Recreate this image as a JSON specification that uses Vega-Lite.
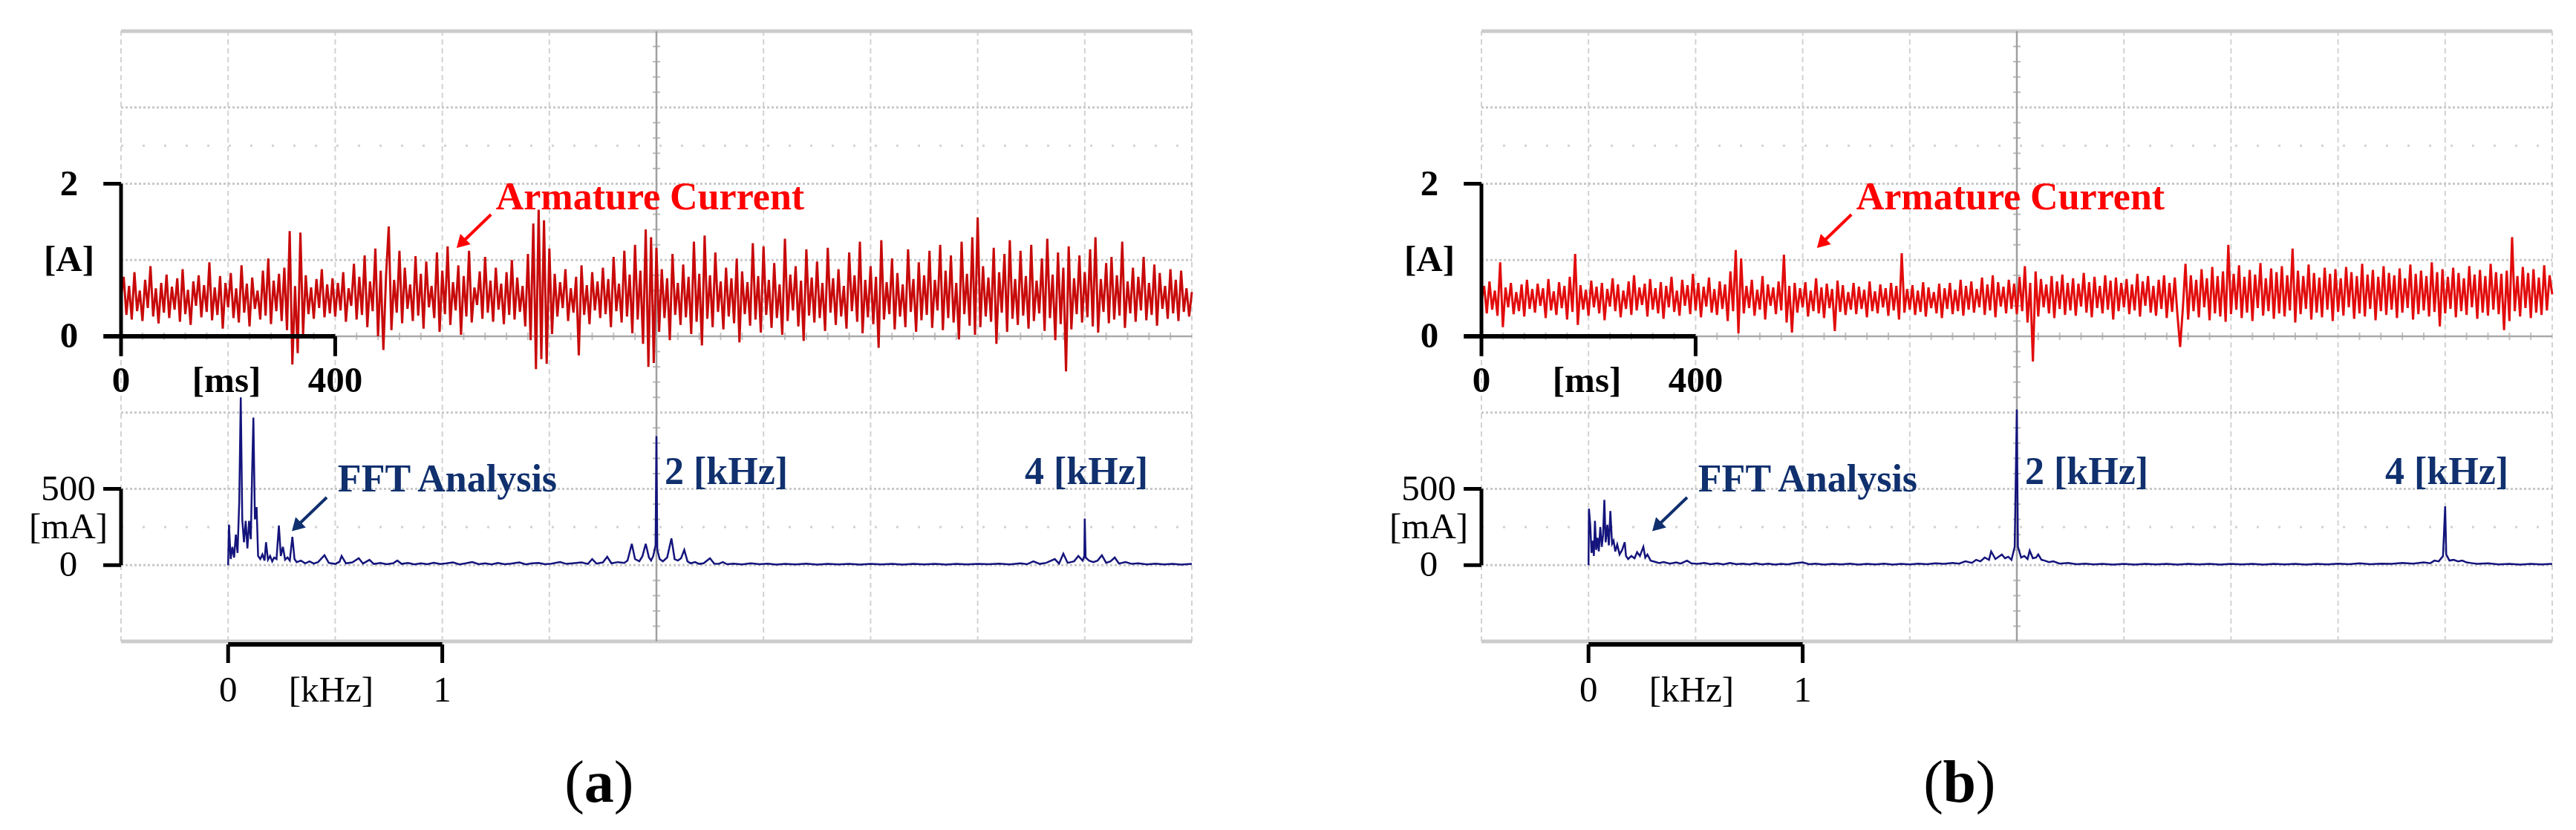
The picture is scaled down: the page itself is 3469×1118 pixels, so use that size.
{
"$schema":"https://vega.github.io/schema/vega-lite/v6.json",
"padding":0,"spacing":0,"bounds":"flush","background":"white",
"config":{"view":{"stroke":null},"axis":{"disable":true},"text":{"font":"Liberation Serif","fontSize":49,"align":"center","baseline":"middle","color":"#000000"}},
"datasets":{
"vgrid":[{"t":0},{"t":200},{"t":400},{"t":600},{"t":800},{"t":1200},{"t":1400},{"t":1600},{"t":1800},{"t":2000}],
"hgrid":[{"i":-3},{"i":-2},{"i":-1},{"i":1},{"i":2},{"i":3}],
"ghost":[{"i":-2.5},{"i":2.5}],
"border":[{"i":-4},{"i":4}],
"vminor":[{"i":-3.8},{"i":-3.6},{"i":-3.4},{"i":-3.2},{"i":-2.8},{"i":-2.6},{"i":-2.4},{"i":-2.2},{"i":-1.8},{"i":-1.6},{"i":-1.4},{"i":-1.2},{"i":-0.8},{"i":-0.6},{"i":-0.4},{"i":-0.2},{"i":0.2},{"i":0.4},{"i":0.6},{"i":0.8},{"i":1.2},{"i":1.4},{"i":1.6},{"i":1.8},{"i":2.2},{"i":2.4},{"i":2.6},{"i":2.8},{"i":3.2},{"i":3.4},{"i":3.6},{"i":3.8}],
"hminor":[{"t":40},{"t":80},{"t":120},{"t":160},{"t":240},{"t":280},{"t":320},{"t":360},{"t":440},{"t":480},{"t":520},{"t":560},{"t":640},{"t":680},{"t":720},{"t":760},{"t":840},{"t":880},{"t":920},{"t":960},{"t":1040},{"t":1080},{"t":1120},{"t":1160},{"t":1240},{"t":1280},{"t":1320},{"t":1360},{"t":1440},{"t":1480},{"t":1520},{"t":1560},{"t":1640},{"t":1680},{"t":1720},{"t":1760},{"t":1840},{"t":1880},{"t":1920},{"t":1960}],
"curA":[{"t":0,"i":0.52},{"t":5,"i":0.78},{"t":10,"i":0.28},{"t":15,"i":0.66},{"t":20,"i":0.22},{"t":25,"i":0.84},{"t":30,"i":0.33},{"t":35,"i":0.6},{"t":40,"i":0.2},{"t":45,"i":0.74},{"t":50,"i":0.37},{"t":55,"i":0.92},{"t":60,"i":0.26},{"t":65,"i":0.63},{"t":70,"i":0.17},{"t":75,"i":0.7},{"t":80,"i":0.31},{"t":85,"i":0.81},{"t":90,"i":0.24},{"t":95,"i":0.65},
{"t":100,"i":0.35},{"t":105,"i":0.76},{"t":110,"i":0.19},{"t":115,"i":0.88},{"t":120,"i":0.29},{"t":125,"i":0.61},{"t":130,"i":0.15},{"t":135,"i":0.72},{"t":140,"i":0.4},{"t":145,"i":0.8},{"t":150,"i":0.25},{"t":155,"i":0.67},{"t":160,"i":0.32},{"t":165,"i":0.97},{"t":170,"i":0.21},{"t":175,"i":0.64},{"t":180,"i":0.28},{"t":185,"i":0.79},{"t":190,"i":0.1},{"t":195,"i":0.7},
{"t":200,"i":0.38},{"t":205,"i":0.83},{"t":210,"i":0.24},{"t":215,"i":0.63},{"t":220,"i":0.18},{"t":225,"i":0.93},{"t":230,"i":0.31},{"t":235,"i":0.69},{"t":240,"i":0.13},{"t":245,"i":0.77},{"t":250,"i":0.36},{"t":255,"i":0.6},{"t":260,"i":0.22},{"t":265,"i":0.86},{"t":270,"i":0.27},{"t":275,"i":1.02},{"t":280,"i":0.16},{"t":285,"i":0.73},{"t":290,"i":0.33},{"t":295,"i":0.82},
{"t":300,"i":0.2},{"t":305,"i":0.9},{"t":310,"i":0.08},{"t":315,"i":1.38},{"t":320,"i":-0.37},{"t":325,"i":0.66},{"t":330,"i":-0.22},{"t":335,"i":1.36},{"t":340,"i":0.03},{"t":345,"i":0.8},{"t":350,"i":0.29},{"t":355,"i":0.64},{"t":360,"i":0.23},{"t":365,"i":0.75},{"t":370,"i":0.37},{"t":375,"i":0.88},{"t":380,"i":0.25},{"t":385,"i":0.68},{"t":390,"i":0.3},{"t":395,"i":0.76},
{"t":400,"i":0.26},{"t":405,"i":0.7},{"t":410,"i":0.34},{"t":415,"i":0.84},{"t":420,"i":0.19},{"t":425,"i":0.63},{"t":430,"i":0.4},{"t":435,"i":0.95},{"t":440,"i":0.22},{"t":445,"i":0.78},{"t":450,"i":0.28},{"t":455,"i":1.06},{"t":460,"i":0.12},{"t":465,"i":0.72},{"t":470,"i":0.33},{"t":475,"i":1.15},{"t":480,"i":0},{"t":485,"i":0.86},{"t":490,"i":-0.18},{"t":495,"i":0.8},
{"t":500,"i":1.44},{"t":505,"i":0.08},{"t":510,"i":0.74},{"t":515,"i":0.31},{"t":520,"i":1.12},{"t":525,"i":0.17},{"t":530,"i":0.9},{"t":535,"i":0.36},{"t":540,"i":0.68},{"t":545,"i":0.2},{"t":550,"i":1.05},{"t":555,"i":0.27},{"t":560,"i":0.82},{"t":565,"i":0.1},{"t":570,"i":0.98},{"t":575,"i":0.38},{"t":580,"i":0.66},{"t":585,"i":0.24},{"t":590,"i":1.1},{"t":595,"i":0.06},
{"t":600,"i":0.86},{"t":605,"i":0.29},{"t":610,"i":1.18},{"t":615,"i":0.15},{"t":620,"i":0.71},{"t":625,"i":0.34},{"t":630,"i":0.93},{"t":635,"i":0.02},{"t":640,"i":0.79},{"t":645,"i":0.26},{"t":650,"i":1.12},{"t":655,"i":0.18},{"t":660,"i":0.64},{"t":665,"i":0.41},{"t":670,"i":0.85},{"t":675,"i":0.23},{"t":680,"i":1.04},{"t":685,"i":0.31},{"t":690,"i":0.73},{"t":695,"i":0.19},
{"t":700,"i":0.9},{"t":705,"i":0.35},{"t":710,"i":0.69},{"t":715,"i":0.16},{"t":720,"i":0.84},{"t":725,"i":0.28},{"t":730,"i":1},{"t":735,"i":0.22},{"t":740,"i":0.77},{"t":745,"i":0.32},{"t":750,"i":0.66},{"t":755,"i":0.13},{"t":760,"i":1.08},{"t":765,"i":-0.05},{"t":770,"i":1.48},{"t":775,"i":-0.43},{"t":780,"i":1.66},{"t":785,"i":-0.3},{"t":790,"i":1.52},{"t":795,"i":-0.36},
{"t":800,"i":1.15},{"t":805,"i":0.03},{"t":810,"i":0.82},{"t":815,"i":0.26},{"t":820,"i":0.71},{"t":825,"i":0.37},{"t":830,"i":0.88},{"t":835,"i":0.2},{"t":840,"i":0.63},{"t":845,"i":0.31},{"t":850,"i":0.78},{"t":855,"i":-0.25},{"t":860,"i":0.93},{"t":865,"i":0.28},{"t":870,"i":0.67},{"t":875,"i":0.16},{"t":880,"i":0.84},{"t":885,"i":0.34},{"t":890,"i":0.72},{"t":895,"i":0.24},
{"t":900,"i":0.9},{"t":905,"i":0.29},{"t":910,"i":0.75},{"t":915,"i":0.12},{"t":920,"i":1.04},{"t":925,"i":0.33},{"t":930,"i":0.69},{"t":935,"i":0.18},{"t":940,"i":1.12},{"t":945,"i":0.26},{"t":950,"i":0.81},{"t":955,"i":0.04},{"t":960,"i":1.2},{"t":965,"i":0.22},{"t":970,"i":0.86},{"t":975,"i":-0.1},{"t":980,"i":1.4},{"t":985,"i":-0.4},{"t":990,"i":1.3},{"t":995,"i":-0.35},
{"t":1000,"i":1.16},{"t":1005,"i":0.06},{"t":1010,"i":0.88},{"t":1015,"i":0.24},{"t":1020,"i":0.76},{"t":1025,"i":-0.05},{"t":1030,"i":1.08},{"t":1035,"i":0.28},{"t":1040,"i":0.7},{"t":1045,"i":0.15},{"t":1050,"i":0.94},{"t":1055,"i":0.25},{"t":1060,"i":0.78},{"t":1065,"i":0.03},{"t":1070,"i":1.24},{"t":1075,"i":0.19},{"t":1080,"i":0.82},{"t":1085,"i":-0.12},{"t":1090,"i":1.32},{"t":1095,"i":0.23},
{"t":1100,"i":0.8},{"t":1105,"i":0.12},{"t":1110,"i":1.1},{"t":1115,"i":0.32},{"t":1120,"i":0.72},{"t":1125,"i":0.09},{"t":1130,"i":0.9},{"t":1135,"i":0.26},{"t":1140,"i":0.76},{"t":1145,"i":0.17},{"t":1150,"i":1.02},{"t":1155,"i":-0.08},{"t":1160,"i":0.85},{"t":1165,"i":0.29},{"t":1170,"i":0.71},{"t":1175,"i":0.14},{"t":1180,"i":1.22},{"t":1185,"i":0.22},{"t":1190,"i":0.79},{"t":1195,"i":0.05},
{"t":1200,"i":1.18},{"t":1205,"i":0.28},{"t":1210,"i":0.74},{"t":1215,"i":0.11},{"t":1220,"i":0.96},{"t":1225,"i":0.24},{"t":1230,"i":0.68},{"t":1235,"i":0.02},{"t":1240,"i":1.28},{"t":1245,"i":0.2},{"t":1250,"i":0.81},{"t":1255,"i":0.34},{"t":1260,"i":0.92},{"t":1265,"i":0.13},{"t":1270,"i":0.73},{"t":1275,"i":-0.06},{"t":1280,"i":1.14},{"t":1285,"i":0.27},{"t":1290,"i":0.77},{"t":1295,"i":0.18},
{"t":1300,"i":0.98},{"t":1305,"i":0.24},{"t":1310,"i":0.7},{"t":1315,"i":0.07},{"t":1320,"i":1.16},{"t":1325,"i":0.31},{"t":1330,"i":0.76},{"t":1335,"i":0.15},{"t":1340,"i":0.88},{"t":1345,"i":0.26},{"t":1350,"i":0.66},{"t":1355,"i":0.1},{"t":1360,"i":1.1},{"t":1365,"i":0.33},{"t":1370,"i":0.8},{"t":1375,"i":0.19},{"t":1380,"i":1.24},{"t":1385,"i":0.04},{"t":1390,"i":0.74},{"t":1395,"i":0.25},
{"t":1400,"i":0.92},{"t":1405,"i":0.16},{"t":1410,"i":0.78},{"t":1415,"i":-0.15},{"t":1420,"i":1.26},{"t":1425,"i":0.22},{"t":1430,"i":0.71},{"t":1435,"i":0.29},{"t":1440,"i":1.02},{"t":1445,"i":0.09},{"t":1450,"i":0.83},{"t":1455,"i":0.26},{"t":1460,"i":0.68},{"t":1465,"i":0.12},{"t":1470,"i":1.14},{"t":1475,"i":0.32},{"t":1480,"i":0.75},{"t":1485,"i":0.06},{"t":1490,"i":0.97},{"t":1495,"i":0.21},
{"t":1500,"i":0.8},{"t":1505,"i":0.28},{"t":1510,"i":1.12},{"t":1515,"i":0.11},{"t":1520,"i":0.74},{"t":1525,"i":0.34},{"t":1530,"i":1.2},{"t":1535,"i":0.08},{"t":1540,"i":0.86},{"t":1545,"i":0.24},{"t":1550,"i":1.06},{"t":1555,"i":0.18},{"t":1560,"i":0.7},{"t":1565,"i":-0.04},{"t":1570,"i":1.24},{"t":1575,"i":0.29},{"t":1580,"i":0.82},{"t":1585,"i":0.14},{"t":1590,"i":1.3},{"t":1595,"i":0.02},
{"t":1600,"i":1.56},{"t":1605,"i":0.12},{"t":1610,"i":0.92},{"t":1615,"i":0.26},{"t":1620,"i":0.77},{"t":1625,"i":0.19},{"t":1630,"i":1.16},{"t":1635,"i":-0.1},{"t":1640,"i":0.84},{"t":1645,"i":0.31},{"t":1650,"i":1.08},{"t":1655,"i":0.06},{"t":1660,"i":1.26},{"t":1665,"i":0.23},{"t":1670,"i":0.75},{"t":1675,"i":0.15},{"t":1680,"i":1.12},{"t":1685,"i":0.27},{"t":1690,"i":0.79},{"t":1695,"i":0.1},
{"t":1700,"i":1.2},{"t":1705,"i":0.2},{"t":1710,"i":0.73},{"t":1715,"i":0.3},{"t":1720,"i":1.02},{"t":1725,"i":0.07},{"t":1730,"i":1.28},{"t":1735,"i":0.24},{"t":1740,"i":0.81},{"t":1745,"i":-0.05},{"t":1750,"i":1.1},{"t":1755,"i":0.16},{"t":1760,"i":0.9},{"t":1765,"i":-0.46},{"t":1770,"i":1.18},{"t":1775,"i":0.09},{"t":1780,"i":0.76},{"t":1785,"i":0.29},{"t":1790,"i":1.06},{"t":1795,"i":0.18},
{"t":1800,"i":0.84},{"t":1805,"i":0.25},{"t":1810,"i":1.14},{"t":1815,"i":0.13},{"t":1820,"i":1.3},{"t":1825,"i":0.05},{"t":1830,"i":0.75},{"t":1835,"i":0.32},{"t":1840,"i":0.96},{"t":1845,"i":0.17},{"t":1850,"i":1.04},{"t":1855,"i":0.22},{"t":1860,"i":0.8},{"t":1865,"i":0.27},{"t":1870,"i":1.24},{"t":1875,"i":0.11},{"t":1880,"i":0.72},{"t":1885,"i":0.3},{"t":1890,"i":0.9},{"t":1895,"i":0.19},
{"t":1900,"i":0.78},{"t":1905,"i":0.34},{"t":1910,"i":1.04},{"t":1915,"i":0.21},{"t":1920,"i":0.7},{"t":1925,"i":0.28},{"t":1930,"i":0.94},{"t":1935,"i":0.14},{"t":1940,"i":0.83},{"t":1945,"i":0.36},{"t":1950,"i":0.66},{"t":1955,"i":0.23},{"t":1960,"i":0.88},{"t":1965,"i":0.3},{"t":1970,"i":0.74},{"t":1975,"i":0.2},{"t":1980,"i":0.86},{"t":1985,"i":0.32},{"t":1990,"i":0.63},{"t":1995,"i":0.26},{"t":2000,"i":0.58}],
"curB":[{"t":0,"i":0.48},{"t":5,"i":0.66},{"t":10,"i":0.3},{"t":15,"i":0.72},{"t":20,"i":0.35},{"t":25,"i":0.6},{"t":30,"i":0.27},{"t":35,"i":0.97},{"t":40,"i":0.12},{"t":45,"i":0.64},{"t":50,"i":0.38},{"t":55,"i":0.7},{"t":60,"i":0.29},{"t":65,"i":0.58},{"t":70,"i":0.33},{"t":75,"i":0.68},{"t":80,"i":0.26},{"t":85,"i":0.74},{"t":90,"i":0.36},{"t":95,"i":0.62},
{"t":100,"i":0.31},{"t":105,"i":0.69},{"t":110,"i":0.4},{"t":115,"i":0.63},{"t":120,"i":0.24},{"t":125,"i":0.75},{"t":130,"i":0.34},{"t":135,"i":0.59},{"t":140,"i":0.28},{"t":145,"i":0.71},{"t":150,"i":0.37},{"t":155,"i":0.66},{"t":160,"i":0.22},{"t":165,"i":0.78},{"t":170,"i":0.32},{"t":175,"i":1.08},{"t":180,"i":0.15},{"t":185,"i":0.67},{"t":190,"i":0.35},{"t":195,"i":0.61},
{"t":200,"i":0.27},{"t":205,"i":0.73},{"t":210,"i":0.38},{"t":215,"i":0.65},{"t":220,"i":0.3},{"t":225,"i":0.7},{"t":230,"i":0.21},{"t":235,"i":0.62},{"t":240,"i":0.39},{"t":245,"i":0.76},{"t":250,"i":0.33},{"t":255,"i":0.68},{"t":260,"i":0.25},{"t":265,"i":0.6},{"t":270,"i":0.36},{"t":275,"i":0.72},{"t":280,"i":0.28},{"t":285,"i":0.8},{"t":290,"i":0.34},{"t":295,"i":0.64},
{"t":300,"i":0.41},{"t":305,"i":0.69},{"t":310,"i":0.26},{"t":315,"i":0.75},{"t":320,"i":0.35},{"t":325,"i":0.63},{"t":330,"i":0.3},{"t":335,"i":0.71},{"t":340,"i":0.23},{"t":345,"i":0.66},{"t":350,"i":0.38},{"t":355,"i":0.78},{"t":360,"i":0.32},{"t":365,"i":0.6},{"t":370,"i":0.27},{"t":375,"i":0.74},{"t":380,"i":0.4},{"t":385,"i":0.67},{"t":390,"i":0.29},{"t":395,"i":0.82},
{"t":400,"i":0.34},{"t":405,"i":0.7},{"t":410,"i":0.25},{"t":415,"i":0.65},{"t":420,"i":0.39},{"t":425,"i":0.77},{"t":430,"i":0.31},{"t":435,"i":0.62},{"t":440,"i":0.28},{"t":445,"i":0.72},{"t":450,"i":0.36},{"t":455,"i":0.68},{"t":460,"i":0.2},{"t":465,"i":0.85},{"t":470,"i":0.33},{"t":475,"i":1.13},{"t":480,"i":0.04},{"t":485,"i":1.02},{"t":490,"i":0.3},{"t":495,"i":0.66},
{"t":500,"i":0.37},{"t":505,"i":0.74},{"t":510,"i":0.27},{"t":515,"i":0.61},{"t":520,"i":0.35},{"t":525,"i":0.79},{"t":530,"i":0.22},{"t":535,"i":0.68},{"t":540,"i":0.4},{"t":545,"i":0.64},{"t":550,"i":0.29},{"t":555,"i":0.72},{"t":560,"i":0.34},{"t":565,"i":1.07},{"t":570,"i":0.18},{"t":575,"i":0.66},{"t":580,"i":0.05},{"t":585,"i":0.7},{"t":590,"i":0.31},{"t":595,"i":0.63},
{"t":600,"i":0.38},{"t":605,"i":0.71},{"t":610,"i":0.26},{"t":615,"i":0.6},{"t":620,"i":0.33},{"t":625,"i":0.76},{"t":630,"i":0.3},{"t":635,"i":0.64},{"t":640,"i":0.24},{"t":645,"i":0.69},{"t":650,"i":0.37},{"t":655,"i":0.62},{"t":660,"i":0.07},{"t":665,"i":0.73},{"t":670,"i":0.32},{"t":675,"i":0.67},{"t":680,"i":0.28},{"t":685,"i":0.58},{"t":690,"i":0.35},{"t":695,"i":0.7},
{"t":700,"i":0.29},{"t":705,"i":0.65},{"t":710,"i":0.36},{"t":715,"i":0.61},{"t":720,"i":0.25},{"t":725,"i":0.72},{"t":730,"i":0.33},{"t":735,"i":0.59},{"t":740,"i":0.3},{"t":745,"i":0.68},{"t":750,"i":0.38},{"t":755,"i":0.63},{"t":760,"i":0.27},{"t":765,"i":0.7},{"t":770,"i":0.34},{"t":775,"i":0.66},{"t":780,"i":0.22},{"t":785,"i":1.09},{"t":790,"i":0.31},{"t":795,"i":0.62},
{"t":800,"i":0.35},{"t":805,"i":0.67},{"t":810,"i":0.28},{"t":815,"i":0.6},{"t":820,"i":0.32},{"t":825,"i":0.71},{"t":830,"i":0.26},{"t":835,"i":0.64},{"t":840,"i":0.37},{"t":845,"i":0.58},{"t":850,"i":0.3},{"t":855,"i":0.69},{"t":860,"i":0.24},{"t":865,"i":0.63},{"t":870,"i":0.36},{"t":875,"i":0.7},{"t":880,"i":0.29},{"t":885,"i":0.61},{"t":890,"i":0.33},{"t":895,"i":0.74},
{"t":900,"i":0.27},{"t":905,"i":0.66},{"t":910,"i":0.35},{"t":915,"i":0.72},{"t":920,"i":0.31},{"t":925,"i":0.62},{"t":930,"i":0.38},{"t":935,"i":0.77},{"t":940,"i":0.28},{"t":945,"i":0.68},{"t":950,"i":0.34},{"t":955,"i":0.8},{"t":960,"i":0.25},{"t":965,"i":0.71},{"t":970,"i":0.39},{"t":975,"i":0.65},{"t":980,"i":0.3},{"t":985,"i":0.74},{"t":990,"i":0.36},{"t":995,"i":0.69},
{"t":1000,"i":0.29},{"t":1005,"i":0.78},{"t":1010,"i":0.33},{"t":1015,"i":0.92},{"t":1020,"i":0.18},{"t":1025,"i":0.7},{"t":1030,"i":-0.33},{"t":1035,"i":0.85},{"t":1040,"i":0.26},{"t":1045,"i":0.75},{"t":1050,"i":0.38},{"t":1055,"i":0.68},{"t":1060,"i":0.3},{"t":1065,"i":0.79},{"t":1070,"i":0.24},{"t":1075,"i":0.72},{"t":1080,"i":0.36},{"t":1085,"i":0.81},{"t":1090,"i":0.28},{"t":1095,"i":0.7},
{"t":1100,"i":0.34},{"t":1105,"i":0.76},{"t":1110,"i":0.27},{"t":1115,"i":0.69},{"t":1120,"i":0.39},{"t":1125,"i":0.83},{"t":1130,"i":0.31},{"t":1135,"i":0.71},{"t":1140,"i":0.25},{"t":1145,"i":0.78},{"t":1150,"i":0.37},{"t":1155,"i":0.66},{"t":1160,"i":0.3},{"t":1165,"i":0.8},{"t":1170,"i":0.35},{"t":1175,"i":0.73},{"t":1180,"i":0.22},{"t":1185,"i":0.77},{"t":1190,"i":0.33},{"t":1195,"i":0.7},
{"t":1200,"i":0.38},{"t":1205,"i":0.75},{"t":1210,"i":0.29},{"t":1215,"i":0.68},{"t":1220,"i":0.34},{"t":1225,"i":0.82},{"t":1230,"i":0.26},{"t":1235,"i":0.72},{"t":1240,"i":0.4},{"t":1245,"i":0.79},{"t":1250,"i":0.31},{"t":1255,"i":0.66},{"t":1260,"i":0.27},{"t":1265,"i":0.74},{"t":1270,"i":0.36},{"t":1275,"i":0.8},{"t":1280,"i":0.24},{"t":1285,"i":0.7},{"t":1290,"i":0.32},{"t":1295,"i":0.77},
{"t":1300,"i":0.28},{"t":1305,"i":-0.14},{"t":1310,"i":0.36},{"t":1315,"i":0.95},{"t":1320,"i":0.22},{"t":1325,"i":0.8},{"t":1330,"i":0.33},{"t":1335,"i":0.74},{"t":1340,"i":0.25},{"t":1345,"i":0.88},{"t":1350,"i":0.38},{"t":1355,"i":0.76},{"t":1360,"i":0.21},{"t":1365,"i":0.91},{"t":1370,"i":0.3},{"t":1375,"i":0.79},{"t":1380,"i":0.26},{"t":1385,"i":0.85},{"t":1390,"i":0.19},{"t":1395,"i":1.2},
{"t":1400,"i":0.29},{"t":1405,"i":0.82},{"t":1410,"i":0.35},{"t":1415,"i":0.93},{"t":1420,"i":0.24},{"t":1425,"i":0.78},{"t":1430,"i":0.31},{"t":1435,"i":0.87},{"t":1440,"i":0.2},{"t":1445,"i":0.81},{"t":1450,"i":0.37},{"t":1455,"i":0.96},{"t":1460,"i":0.27},{"t":1465,"i":0.76},{"t":1470,"i":0.33},{"t":1475,"i":0.89},{"t":1480,"i":0.23},{"t":1485,"i":0.84},{"t":1490,"i":0.3},{"t":1495,"i":0.92},
{"t":1500,"i":0.26},{"t":1505,"i":0.8},{"t":1510,"i":0.34},{"t":1515,"i":1.15},{"t":1520,"i":0.18},{"t":1525,"i":0.86},{"t":1530,"i":0.29},{"t":1535,"i":0.79},{"t":1540,"i":0.36},{"t":1545,"i":0.94},{"t":1550,"i":0.22},{"t":1555,"i":0.83},{"t":1560,"i":0.31},{"t":1565,"i":0.77},{"t":1570,"i":0.25},{"t":1575,"i":0.9},{"t":1580,"i":0.35},{"t":1585,"i":0.82},{"t":1590,"i":0.2},{"t":1595,"i":0.88},
{"t":1600,"i":0.32},{"t":1605,"i":0.76},{"t":1610,"i":0.27},{"t":1615,"i":0.91},{"t":1620,"i":0.38},{"t":1625,"i":0.84},{"t":1630,"i":0.23},{"t":1635,"i":0.79},{"t":1640,"i":0.3},{"t":1645,"i":0.95},{"t":1650,"i":0.26},{"t":1655,"i":0.81},{"t":1660,"i":0.36},{"t":1665,"i":0.87},{"t":1670,"i":0.21},{"t":1675,"i":0.78},{"t":1680,"i":0.33},{"t":1685,"i":0.92},{"t":1690,"i":0.28},{"t":1695,"i":0.83},
{"t":1700,"i":0.35},{"t":1705,"i":0.8},{"t":1710,"i":0.24},{"t":1715,"i":0.89},{"t":1720,"i":0.31},{"t":1725,"i":0.76},{"t":1730,"i":0.37},{"t":1735,"i":0.94},{"t":1740,"i":0.22},{"t":1745,"i":0.82},{"t":1750,"i":0.29},{"t":1755,"i":0.86},{"t":1760,"i":0.34},{"t":1765,"i":0.79},{"t":1770,"i":0.26},{"t":1775,"i":0.97},{"t":1780,"i":0.32},{"t":1785,"i":0.84},{"t":1790,"i":0.13},{"t":1795,"i":0.88},
{"t":1800,"i":0.3},{"t":1805,"i":0.78},{"t":1810,"i":0.36},{"t":1815,"i":0.9},{"t":1820,"i":0.25},{"t":1825,"i":0.83},{"t":1830,"i":0.33},{"t":1835,"i":0.76},{"t":1840,"i":0.28},{"t":1845,"i":0.92},{"t":1850,"i":0.38},{"t":1855,"i":0.81},{"t":1860,"i":0.23},{"t":1865,"i":0.87},{"t":1870,"i":0.31},{"t":1875,"i":0.79},{"t":1880,"i":0.27},{"t":1885,"i":0.95},{"t":1890,"i":0.35},{"t":1895,"i":0.84},
{"t":1900,"i":0.29},{"t":1905,"i":0.82},{"t":1910,"i":0.08},{"t":1915,"i":0.86},{"t":1920,"i":0.2},{"t":1925,"i":1.3},{"t":1930,"i":0.33},{"t":1935,"i":0.79},{"t":1940,"i":0.26},{"t":1945,"i":0.91},{"t":1950,"i":0.37},{"t":1955,"i":0.83},{"t":1960,"i":0.24},{"t":1965,"i":0.88},{"t":1970,"i":0.31},{"t":1975,"i":0.77},{"t":1980,"i":0.28},{"t":1985,"i":0.93},{"t":1990,"i":0.34},{"t":1995,"i":0.8},{"t":2000,"i":0.55}],
"fftA":[{"f":0,"a":0},{"f":0.004,"a":265},{"f":0.012,"a":40},{"f":0.02,"a":120},{"f":0.028,"a":50},{"f":0.036,"a":200},{"f":0.044,"a":80},{"f":0.052,"a":420},{"f":0.059,"a":1100},{"f":0.066,"a":300},{"f":0.074,"a":150},{"f":0.082,"a":290},{"f":0.09,"a":110},{"f":0.098,"a":290},{"f":0.106,"a":170},{"f":0.112,"a":600},{"f":0.118,"a":967},{"f":0.125,"a":300},{"f":0.133,"a":380},{"f":0.14,"a":60},{"f":0.15,"a":40},{"f":0.16,"a":70},{"f":0.17,"a":30},{"f":0.177,"a":150},{"f":0.186,"a":35},{"f":0.196,"a":60},{"f":0.206,"a":25},{"f":0.215,"a":50},{"f":0.226,"a":40},{"f":0.237,"a":260},{"f":0.246,"a":60},{"f":0.256,"a":120},{"f":0.266,"a":35},{"f":0.277,"a":50},{"f":0.288,"a":30},{"f":0.3,"a":185},{"f":0.31,"a":40},{"f":0.32,"a":20},{"f":0.34,"a":30},{"f":0.36,"a":12},{"f":0.38,"a":25},{"f":0.4,"a":10},{"f":0.42,"a":20},{"f":0.45,"a":65},{"f":0.47,"a":15},{"f":0.5,"a":8},{"f":0.52,"a":22},{"f":0.53,"a":60},{"f":0.55,"a":12},{"f":0.58,"a":18},{"f":0.61,"a":45},{"f":0.63,"a":10},{"f":0.66,"a":35},{"f":0.68,"a":8},{"f":0.71,"a":14},{"f":0.74,"a":6},{"f":0.77,"a":12},{"f":0.79,"a":30},{"f":0.81,"a":8},{"f":0.84,"a":14},{"f":0.87,"a":5},{"f":0.9,"a":12},{"f":0.93,"a":6},{"f":0.96,"a":16},{"f":0.99,"a":7},{"f":1.02,"a":12},{"f":1.05,"a":18},{"f":1.08,"a":5},{"f":1.11,"a":12},{"f":1.14,"a":20},{"f":1.17,"a":6},{"f":1.2,"a":12},{"f":1.23,"a":5},{"f":1.26,"a":15},{"f":1.29,"a":6},{"f":1.32,"a":10},{"f":1.36,"a":18},{"f":1.39,"a":5},{"f":1.42,"a":12},{"f":1.45,"a":14},{"f":1.48,"a":6},{"f":1.51,"a":10},{"f":1.55,"a":20},{"f":1.58,"a":8},{"f":1.61,"a":12},{"f":1.65,"a":18},{"f":1.68,"a":8},{"f":1.7,"a":40},{"f":1.72,"a":10},{"f":1.75,"a":18},{"f":1.77,"a":55},{"f":1.79,"a":12},{"f":1.82,"a":20},{"f":1.85,"a":15},{"f":1.865,"a":30},{"f":1.885,"a":140},{"f":1.9,"a":40},{"f":1.92,"a":25},{"f":1.935,"a":60},{"f":1.95,"a":140},{"f":1.965,"a":50},{"f":1.975,"a":30},{"f":1.985,"a":60},{"f":1.996,"a":130},{"f":2,"a":845},{"f":2.004,"a":100},{"f":2.015,"a":40},{"f":2.03,"a":25},{"f":2.05,"a":50},{"f":2.07,"a":175},{"f":2.085,"a":40},{"f":2.1,"a":30},{"f":2.115,"a":45},{"f":2.13,"a":100},{"f":2.145,"a":25},{"f":2.16,"a":12},{"f":2.18,"a":20},{"f":2.2,"a":8},{"f":2.22,"a":12},{"f":2.25,"a":45},{"f":2.27,"a":10},{"f":2.29,"a":8},{"f":2.31,"a":20},{"f":2.33,"a":6},{"f":2.36,"a":10},{"f":2.4,"a":5},{"f":2.44,"a":12},{"f":2.48,"a":6},{"f":2.52,"a":10},{"f":2.56,"a":4},{"f":2.6,"a":9},{"f":2.65,"a":5},{"f":2.7,"a":10},{"f":2.75,"a":4},{"f":2.8,"a":8},{"f":2.85,"a":5},{"f":2.9,"a":9},{"f":2.95,"a":4},{"f":3,"a":8},{"f":3.05,"a":5},{"f":3.1,"a":9},{"f":3.15,"a":4},{"f":3.2,"a":8},{"f":3.25,"a":5},{"f":3.3,"a":9},{"f":3.35,"a":4},{"f":3.4,"a":8},{"f":3.45,"a":5},{"f":3.5,"a":9},{"f":3.55,"a":6},{"f":3.6,"a":10},{"f":3.65,"a":5},{"f":3.7,"a":12},{"f":3.73,"a":6},{"f":3.76,"a":25},{"f":3.79,"a":8},{"f":3.82,"a":15},{"f":3.86,"a":40},{"f":3.88,"a":10},{"f":3.9,"a":75},{"f":3.92,"a":15},{"f":3.95,"a":25},{"f":3.97,"a":60},{"f":3.99,"a":30},{"f":3.998,"a":60},{"f":4,"a":305},{"f":4.004,"a":50},{"f":4.02,"a":30},{"f":4.04,"a":20},{"f":4.06,"a":30},{"f":4.08,"a":65},{"f":4.1,"a":15},{"f":4.12,"a":25},{"f":4.14,"a":50},{"f":4.16,"a":10},{"f":4.19,"a":20},{"f":4.22,"a":8},{"f":4.25,"a":12},{"f":4.29,"a":5},{"f":4.33,"a":10},{"f":4.37,"a":5},{"f":4.41,"a":9},{"f":4.45,"a":4},{"f":4.5,"a":8}],
"fftB":[{"f":0,"a":0},{"f":0.002,"a":370},{"f":0.008,"a":265},{"f":0.014,"a":80},{"f":0.02,"a":160},{"f":0.025,"a":60},{"f":0.03,"a":290},{"f":0.036,"a":100},{"f":0.042,"a":180},{"f":0.048,"a":90},{"f":0.055,"a":250},{"f":0.062,"a":120},{"f":0.068,"a":200},{"f":0.074,"a":428},{"f":0.08,"a":150},{"f":0.088,"a":265},{"f":0.095,"a":130},{"f":0.102,"a":355},{"f":0.11,"a":140},{"f":0.117,"a":160},{"f":0.125,"a":90},{"f":0.134,"a":135},{"f":0.145,"a":70},{"f":0.157,"a":100},{"f":0.169,"a":150},{"f":0.175,"a":60},{"f":0.185,"a":40},{"f":0.2,"a":60},{"f":0.215,"a":45},{"f":0.227,"a":85},{"f":0.24,"a":60},{"f":0.256,"a":120},{"f":0.265,"a":50},{"f":0.275,"a":70},{"f":0.29,"a":30},{"f":0.31,"a":22},{"f":0.33,"a":14},{"f":0.35,"a":20},{"f":0.38,"a":10},{"f":0.41,"a":18},{"f":0.43,"a":10},{"f":0.46,"a":30},{"f":0.48,"a":12},{"f":0.51,"a":8},{"f":0.54,"a":14},{"f":0.57,"a":6},{"f":0.6,"a":12},{"f":0.63,"a":5},{"f":0.66,"a":15},{"f":0.69,"a":6},{"f":0.72,"a":10},{"f":0.75,"a":5},{"f":0.78,"a":12},{"f":0.81,"a":5},{"f":0.84,"a":10},{"f":0.87,"a":4},{"f":0.9,"a":9},{"f":0.93,"a":5},{"f":0.96,"a":12},{"f":1,"a":18},{"f":1.03,"a":6},{"f":1.06,"a":10},{"f":1.1,"a":4},{"f":1.14,"a":9},{"f":1.18,"a":5},{"f":1.22,"a":10},{"f":1.26,"a":4},{"f":1.3,"a":9},{"f":1.34,"a":5},{"f":1.38,"a":10},{"f":1.42,"a":4},{"f":1.46,"a":9},{"f":1.5,"a":5},{"f":1.54,"a":10},{"f":1.58,"a":6},{"f":1.62,"a":12},{"f":1.66,"a":8},{"f":1.7,"a":14},{"f":1.73,"a":10},{"f":1.76,"a":25},{"f":1.79,"a":15},{"f":1.81,"a":35},{"f":1.83,"a":25},{"f":1.85,"a":50},{"f":1.87,"a":35},{"f":1.88,"a":90},{"f":1.9,"a":40},{"f":1.92,"a":60},{"f":1.93,"a":70},{"f":1.945,"a":45},{"f":1.96,"a":55},{"f":1.975,"a":35},{"f":1.99,"a":120},{"f":2,"a":1020},{"f":2.005,"a":120},{"f":2.02,"a":50},{"f":2.035,"a":60},{"f":2.05,"a":40},{"f":2.06,"a":95},{"f":2.075,"a":45},{"f":2.09,"a":50},{"f":2.1,"a":70},{"f":2.115,"a":35},{"f":2.13,"a":30},{"f":2.15,"a":20},{"f":2.17,"a":25},{"f":2.2,"a":10},{"f":2.24,"a":14},{"f":2.28,"a":6},{"f":2.32,"a":10},{"f":2.36,"a":5},{"f":2.4,"a":9},{"f":2.45,"a":4},{"f":2.5,"a":8},{"f":2.55,"a":4},{"f":2.6,"a":9},{"f":2.65,"a":5},{"f":2.7,"a":8},{"f":2.75,"a":4},{"f":2.8,"a":9},{"f":2.85,"a":5},{"f":2.9,"a":8},{"f":2.95,"a":4},{"f":3,"a":9},{"f":3.05,"a":5},{"f":3.1,"a":8},{"f":3.15,"a":4},{"f":3.2,"a":9},{"f":3.25,"a":5},{"f":3.3,"a":8},{"f":3.35,"a":4},{"f":3.4,"a":9},{"f":3.45,"a":5},{"f":3.5,"a":10},{"f":3.55,"a":6},{"f":3.6,"a":12},{"f":3.65,"a":6},{"f":3.7,"a":10},{"f":3.75,"a":8},{"f":3.8,"a":14},{"f":3.85,"a":10},{"f":3.9,"a":18},{"f":3.93,"a":12},{"f":3.95,"a":30},{"f":3.97,"a":25},{"f":3.99,"a":60},{"f":4,"a":385},{"f":4.005,"a":70},{"f":4.02,"a":30},{"f":4.04,"a":35},{"f":4.06,"a":25},{"f":4.08,"a":30},{"f":4.1,"a":18},{"f":4.12,"a":14},{"f":4.15,"a":8},{"f":4.2,"a":12},{"f":4.25,"a":5},{"f":4.3,"a":9},{"f":4.35,"a":4},{"f":4.4,"a":8},{"f":4.45,"a":5},{"f":4.5,"a":8}]
},
"hconcat":[
{"width":1832,"height":1118,"resolve":{"scale":{"x":"independent","y":"independent"}},
"layer":[
{"data":{"values":[{}]},"layer":[
{"data":{"name":"vgrid"},"mark":{"type":"rule","color":"#d2d2d2","strokeWidth":2,"strokeDash":[7,5]},"encoding":{"x":{"field":"t","type":"quantitative","scale":{"domain":[-226.08,2314.84],"nice":false,"zero":false}},"y":{"datum":-4,"type":"quantitative","scale":{"domain":[-6.47202,4.40876],"nice":false,"zero":false}},"y2":{"datum":4}}},
{"data":{"name":"hgrid"},"mark":{"type":"rule","color":"#c8c8c8","strokeWidth":3,"strokeDash":[3,3]},"encoding":{"x":{"datum":0,"type":"quantitative","scale":{"domain":[-226.08,2314.84],"nice":false,"zero":false}},"x2":{"datum":2000},"y":{"field":"i","type":"quantitative","scale":{"domain":[-6.47202,4.40876],"nice":false,"zero":false}}}},
{"data":{"name":"ghost"},"mark":{"type":"rule","color":"#d2d2d2","strokeWidth":3,"strokeDash":[3,26]},"encoding":{"x":{"datum":0,"type":"quantitative","scale":{"domain":[-226.08,2314.84],"nice":false,"zero":false}},"x2":{"datum":2000},"y":{"field":"i","type":"quantitative","scale":{"domain":[-6.47202,4.40876],"nice":false,"zero":false}}}},
{"data":{"name":"border"},"mark":{"type":"rule","color":"#cccccc","strokeWidth":5},"encoding":{"x":{"datum":0,"type":"quantitative","scale":{"domain":[-226.08,2314.84],"nice":false,"zero":false}},"x2":{"datum":2000},"y":{"field":"i","type":"quantitative","scale":{"domain":[-6.47202,4.40876],"nice":false,"zero":false}}}},
{"mark":{"type":"rule","color":"#a0a0a0","strokeWidth":2.5},"encoding":{"x":{"datum":1000,"type":"quantitative","scale":{"domain":[-226.08,2314.84],"nice":false,"zero":false}},"y":{"datum":-4,"type":"quantitative","scale":{"domain":[-6.47202,4.40876],"nice":false,"zero":false}},"y2":{"datum":4}}},
{"mark":{"type":"rule","color":"#a8a8a8","strokeWidth":2.5},"encoding":{"x":{"datum":0,"type":"quantitative","scale":{"domain":[-226.08,2314.84],"nice":false,"zero":false}},"x2":{"datum":2000},"y":{"datum":0,"type":"quantitative","scale":{"domain":[-6.47202,4.40876],"nice":false,"zero":false}}}},
{"data":{"name":"vminor"},"mark":{"type":"tick","orient":"horizontal","size":10,"thickness":2,"color":"#a0a0a0"},"encoding":{"x":{"datum":1000,"type":"quantitative","scale":{"domain":[-226.08,2314.84],"nice":false,"zero":false}},"y":{"field":"i","type":"quantitative","scale":{"domain":[-6.47202,4.40876],"nice":false,"zero":false}}}},
{"data":{"name":"hminor"},"mark":{"type":"tick","orient":"vertical","size":10,"thickness":2,"color":"#a8a8a8"},"encoding":{"x":{"field":"t","type":"quantitative","scale":{"domain":[-226.08,2314.84],"nice":false,"zero":false}},"y":{"datum":0,"type":"quantitative","scale":{"domain":[-6.47202,4.40876],"nice":false,"zero":false}}}},
{"data":{"name":"curA"},"mark":{"type":"line","color":"#c80a0a","strokeWidth":3},"encoding":{"x":{"field":"t","type":"quantitative","scale":{"domain":[-226.08,2314.84],"nice":false,"zero":false}},"y":{"field":"i","type":"quantitative","scale":{"domain":[-6.47202,4.40876],"nice":false,"zero":false}}}},
{"mark":{"type":"rule","color":"#000000","strokeWidth":5},"encoding":{"x":{"datum":0,"type":"quantitative","scale":{"domain":[-226.08,2314.84],"nice":false,"zero":false}},"y":{"datum":-0.26,"type":"quantitative","scale":{"domain":[-6.47202,4.40876],"nice":false,"zero":false}},"y2":{"datum":2}}},
{"mark":{"type":"rule","color":"#000000","strokeWidth":5},"encoding":{"x":{"datum":400,"type":"quantitative","scale":{"domain":[-226.08,2314.84],"nice":false,"zero":false}},"y":{"datum":-0.26,"type":"quantitative","scale":{"domain":[-6.47202,4.40876],"nice":false,"zero":false}},"y2":{"datum":0}}},
{"mark":{"type":"rule","color":"#000000","strokeWidth":6},"encoding":{"x":{"datum":-33,"type":"quantitative","scale":{"domain":[-226.08,2314.84],"nice":false,"zero":false}},"x2":{"datum":400},"y":{"datum":0,"type":"quantitative","scale":{"domain":[-6.47202,4.40876],"nice":false,"zero":false}}}},
{"mark":{"type":"rule","color":"#000000","strokeWidth":5},"encoding":{"x":{"datum":-33,"type":"quantitative","scale":{"domain":[-226.08,2314.84],"nice":false,"zero":false}},"x2":{"datum":0},"y":{"datum":2,"type":"quantitative","scale":{"domain":[-6.47202,4.40876],"nice":false,"zero":false}}}},
{"mark":{"type":"text","fontWeight":"bold","text":"2"},"encoding":{"x":{"datum":-97,"type":"quantitative","scale":{"domain":[-226.08,2314.84],"nice":false,"zero":false}},"y":{"datum":2,"type":"quantitative","scale":{"domain":[-6.47202,4.40876],"nice":false,"zero":false}}}},
{"mark":{"type":"text","fontWeight":"bold","text":"[A]"},"encoding":{"x":{"datum":-97,"type":"quantitative","scale":{"domain":[-226.08,2314.84],"nice":false,"zero":false}},"y":{"datum":1,"type":"quantitative","scale":{"domain":[-6.47202,4.40876],"nice":false,"zero":false}}}},
{"mark":{"type":"text","fontWeight":"bold","text":"0"},"encoding":{"x":{"datum":-97,"type":"quantitative","scale":{"domain":[-226.08,2314.84],"nice":false,"zero":false}},"y":{"datum":0,"type":"quantitative","scale":{"domain":[-6.47202,4.40876],"nice":false,"zero":false}}}},
{"mark":{"type":"text","fontWeight":"bold","text":"0"},"encoding":{"x":{"datum":0,"type":"quantitative","scale":{"domain":[-226.08,2314.84],"nice":false,"zero":false}},"y":{"datum":-0.584,"type":"quantitative","scale":{"domain":[-6.47202,4.40876],"nice":false,"zero":false}}}},
{"mark":{"type":"text","fontWeight":"bold","text":"[ms]"},"encoding":{"x":{"datum":197,"type":"quantitative","scale":{"domain":[-226.08,2314.84],"nice":false,"zero":false}},"y":{"datum":-0.584,"type":"quantitative","scale":{"domain":[-6.47202,4.40876],"nice":false,"zero":false}}}},
{"mark":{"type":"text","fontWeight":"bold","text":"400"},"encoding":{"x":{"datum":400,"type":"quantitative","scale":{"domain":[-226.08,2314.84],"nice":false,"zero":false}},"y":{"datum":-0.584,"type":"quantitative","scale":{"domain":[-6.47202,4.40876],"nice":false,"zero":false}}}},
{"mark":{"type":"text","fontWeight":"bold","fontSize":52,"color":"#ff0000","align":"left","baseline":"alphabetic","text":"Armature Current"},"encoding":{"x":{"datum":700,"type":"quantitative","scale":{"domain":[-226.08,2314.84],"nice":false,"zero":false}},"y":{"datum":1.66,"type":"quantitative","scale":{"domain":[-6.47202,4.40876],"nice":false,"zero":false}}}},
{"mark":{"type":"rule","color":"#ff0000","strokeWidth":4},"encoding":{"x":{"datum":691,"type":"quantitative","scale":{"domain":[-226.08,2314.84],"nice":false,"zero":false}},"x2":{"datum":635},"y":{"datum":1.596,"type":"quantitative","scale":{"domain":[-6.47202,4.40876],"nice":false,"zero":false}},"y2":{"datum":1.217}}},
{"mark":{"type":"point","shape":"triangle-up","angle":225,"size":380,"filled":true,"opacity":1,"color":"#ff0000"},"encoding":{"x":{"datum":635,"type":"quantitative","scale":{"domain":[-226.08,2314.84],"nice":false,"zero":false}},"y":{"datum":1.217,"type":"quantitative","scale":{"domain":[-6.47202,4.40876],"nice":false,"zero":false}}}},
{"mark":{"type":"text","fontWeight":"bold","fontSize":80,"baseline":"alphabetic","text":"a"},"encoding":{"x":{"datum":893,"type":"quantitative","scale":{"domain":[-226.08,2314.84],"nice":false,"zero":false}},"y":{"datum":-6.1,"type":"quantitative","scale":{"domain":[-6.47202,4.40876],"nice":false,"zero":false}}}},
{"mark":{"type":"text","fontSize":80,"baseline":"alphabetic","align":"right","dx":-20,"text":"("},"encoding":{"x":{"datum":893,"type":"quantitative","scale":{"domain":[-226.08,2314.84],"nice":false,"zero":false}},"y":{"datum":-6.1,"type":"quantitative","scale":{"domain":[-6.47202,4.40876],"nice":false,"zero":false}}}},
{"mark":{"type":"text","fontSize":80,"baseline":"alphabetic","align":"left","dx":20,"text":")"},"encoding":{"x":{"datum":893,"type":"quantitative","scale":{"domain":[-226.08,2314.84],"nice":false,"zero":false}},"y":{"datum":-6.1,"type":"quantitative","scale":{"domain":[-6.47202,4.40876],"nice":false,"zero":false}}}}
]},
{"data":{"values":[{}]},"layer":[
{"data":{"name":"fftA"},"mark":{"type":"line","color":"#14147c","strokeWidth":2.5},"encoding":{"x":{"field":"f","type":"quantitative","scale":{"domain":[-1.06519,5.28709],"nice":false,"zero":false}},"y":{"field":"a","type":"quantitative","scale":{"domain":[-1736.01,3704.38],"nice":false,"zero":false}}}},
{"mark":{"type":"rule","color":"#000000","strokeWidth":5},"encoding":{"x":{"datum":-0.5,"type":"quantitative","scale":{"domain":[-1.06519,5.28709],"nice":false,"zero":false}},"y":{"datum":0,"type":"quantitative","scale":{"domain":[-1736.01,3704.38],"nice":false,"zero":false}},"y2":{"datum":500}}},
{"mark":{"type":"rule","color":"#000000","strokeWidth":5},"encoding":{"x":{"datum":-0.583,"type":"quantitative","scale":{"domain":[-1.06519,5.28709],"nice":false,"zero":false}},"x2":{"datum":-0.5},"y":{"datum":500,"type":"quantitative","scale":{"domain":[-1736.01,3704.38],"nice":false,"zero":false}}}},
{"mark":{"type":"rule","color":"#000000","strokeWidth":5},"encoding":{"x":{"datum":-0.583,"type":"quantitative","scale":{"domain":[-1.06519,5.28709],"nice":false,"zero":false}},"x2":{"datum":-0.5},"y":{"datum":0,"type":"quantitative","scale":{"domain":[-1736.01,3704.38],"nice":false,"zero":false}}}},
{"mark":{"type":"rule","color":"#000000","strokeWidth":6},"encoding":{"x":{"datum":0,"type":"quantitative","scale":{"domain":[-1.06519,5.28709],"nice":false,"zero":false}},"x2":{"datum":1},"y":{"datum":-519.5,"type":"quantitative","scale":{"domain":[-1736.01,3704.38],"nice":false,"zero":false}}}},
{"mark":{"type":"rule","color":"#000000","strokeWidth":5},"encoding":{"x":{"datum":0,"type":"quantitative","scale":{"domain":[-1.06519,5.28709],"nice":false,"zero":false}},"y":{"datum":-519.5,"type":"quantitative","scale":{"domain":[-1736.01,3704.38],"nice":false,"zero":false}},"y2":{"datum":-641}}},
{"mark":{"type":"rule","color":"#000000","strokeWidth":5},"encoding":{"x":{"datum":1,"type":"quantitative","scale":{"domain":[-1.06519,5.28709],"nice":false,"zero":false}},"y":{"datum":-519.5,"type":"quantitative","scale":{"domain":[-1736.01,3704.38],"nice":false,"zero":false}},"y2":{"datum":-641}}},
{"mark":{"type":"text","text":"500"},"encoding":{"x":{"datum":-0.746,"type":"quantitative","scale":{"domain":[-1.06519,5.28709],"nice":false,"zero":false}},"y":{"datum":500,"type":"quantitative","scale":{"domain":[-1736.01,3704.38],"nice":false,"zero":false}}}},
{"mark":{"type":"text","text":"[mA]"},"encoding":{"x":{"datum":-0.746,"type":"quantitative","scale":{"domain":[-1.06519,5.28709],"nice":false,"zero":false}},"y":{"datum":250,"type":"quantitative","scale":{"domain":[-1736.01,3704.38],"nice":false,"zero":false}}}},
{"mark":{"type":"text","text":"0"},"encoding":{"x":{"datum":-0.746,"type":"quantitative","scale":{"domain":[-1.06519,5.28709],"nice":false,"zero":false}},"y":{"datum":0,"type":"quantitative","scale":{"domain":[-1736.01,3704.38],"nice":false,"zero":false}}}},
{"mark":{"type":"text","text":"0"},"encoding":{"x":{"datum":0,"type":"quantitative","scale":{"domain":[-1.06519,5.28709],"nice":false,"zero":false}},"y":{"datum":-821,"type":"quantitative","scale":{"domain":[-1736.01,3704.38],"nice":false,"zero":false}}}},
{"mark":{"type":"text","text":"[kHz]"},"encoding":{"x":{"datum":0.481,"type":"quantitative","scale":{"domain":[-1.06519,5.28709],"nice":false,"zero":false}},"y":{"datum":-821,"type":"quantitative","scale":{"domain":[-1736.01,3704.38],"nice":false,"zero":false}}}},
{"mark":{"type":"text","text":"1"},"encoding":{"x":{"datum":1,"type":"quantitative","scale":{"domain":[-1.06519,5.28709],"nice":false,"zero":false}},"y":{"datum":-821,"type":"quantitative","scale":{"domain":[-1736.01,3704.38],"nice":false,"zero":false}}}},
{"mark":{"type":"text","fontWeight":"bold","fontSize":52,"color":"#10306e","align":"left","baseline":"alphabetic","text":"FFT Analysis"},"encoding":{"x":{"datum":0.512,"type":"quantitative","scale":{"domain":[-1.06519,5.28709],"nice":false,"zero":false}},"y":{"datum":483,"type":"quantitative","scale":{"domain":[-1736.01,3704.38],"nice":false,"zero":false}}}},
{"mark":{"type":"text","fontWeight":"bold","fontSize":52,"color":"#10306e","align":"left","baseline":"alphabetic","text":"2 [kHz]"},"encoding":{"x":{"datum":2.038,"type":"quantitative","scale":{"domain":[-1.06519,5.28709],"nice":false,"zero":false}},"y":{"datum":532,"type":"quantitative","scale":{"domain":[-1736.01,3704.38],"nice":false,"zero":false}}}},
{"mark":{"type":"text","fontWeight":"bold","fontSize":52,"color":"#10306e","align":"left","baseline":"alphabetic","text":"4 [kHz]"},"encoding":{"x":{"datum":3.72,"type":"quantitative","scale":{"domain":[-1.06519,5.28709],"nice":false,"zero":false}},"y":{"datum":532,"type":"quantitative","scale":{"domain":[-1736.01,3704.38],"nice":false,"zero":false}}}},
{"mark":{"type":"rule","color":"#10306e","strokeWidth":4},"encoding":{"x":{"datum":0.4605,"type":"quantitative","scale":{"domain":[-1.06519,5.28709],"nice":false,"zero":false}},"x2":{"datum":0.3183},"y":{"datum":444,"type":"quantitative","scale":{"domain":[-1736.01,3704.38],"nice":false,"zero":false}},"y2":{"datum":252}}},
{"mark":{"type":"point","shape":"triangle-up","angle":225,"size":380,"filled":true,"opacity":1,"color":"#10306e"},"encoding":{"x":{"datum":0.3183,"type":"quantitative","scale":{"domain":[-1.06519,5.28709],"nice":false,"zero":false}},"y":{"datum":252,"type":"quantitative","scale":{"domain":[-1736.01,3704.38],"nice":false,"zero":false}}}}
]}
]},
{"width":1637,"height":1118,"resolve":{"scale":{"x":"independent","y":"independent"}},
"layer":[
{"data":{"values":[{}]},"layer":[
{"data":{"name":"vgrid"},"mark":{"type":"rule","color":"#d2d2d2","strokeWidth":2,"strokeDash":[7,5]},"encoding":{"x":{"field":"t","type":"quantitative","scale":{"domain":[-226.08,2044.38],"nice":false,"zero":false}},"y":{"datum":-4,"type":"quantitative","scale":{"domain":[-6.47202,4.40876],"nice":false,"zero":false}},"y2":{"datum":4}}},
{"data":{"name":"hgrid"},"mark":{"type":"rule","color":"#c8c8c8","strokeWidth":3,"strokeDash":[3,3]},"encoding":{"x":{"datum":0,"type":"quantitative","scale":{"domain":[-226.08,2044.38],"nice":false,"zero":false}},"x2":{"datum":2000},"y":{"field":"i","type":"quantitative","scale":{"domain":[-6.47202,4.40876],"nice":false,"zero":false}}}},
{"data":{"name":"ghost"},"mark":{"type":"rule","color":"#d2d2d2","strokeWidth":3,"strokeDash":[3,26]},"encoding":{"x":{"datum":0,"type":"quantitative","scale":{"domain":[-226.08,2044.38],"nice":false,"zero":false}},"x2":{"datum":2000},"y":{"field":"i","type":"quantitative","scale":{"domain":[-6.47202,4.40876],"nice":false,"zero":false}}}},
{"data":{"name":"border"},"mark":{"type":"rule","color":"#cccccc","strokeWidth":5},"encoding":{"x":{"datum":0,"type":"quantitative","scale":{"domain":[-226.08,2044.38],"nice":false,"zero":false}},"x2":{"datum":2000},"y":{"field":"i","type":"quantitative","scale":{"domain":[-6.47202,4.40876],"nice":false,"zero":false}}}},
{"mark":{"type":"rule","color":"#a0a0a0","strokeWidth":2.5},"encoding":{"x":{"datum":1000,"type":"quantitative","scale":{"domain":[-226.08,2044.38],"nice":false,"zero":false}},"y":{"datum":-4,"type":"quantitative","scale":{"domain":[-6.47202,4.40876],"nice":false,"zero":false}},"y2":{"datum":4}}},
{"mark":{"type":"rule","color":"#a8a8a8","strokeWidth":2.5},"encoding":{"x":{"datum":0,"type":"quantitative","scale":{"domain":[-226.08,2044.38],"nice":false,"zero":false}},"x2":{"datum":2000},"y":{"datum":0,"type":"quantitative","scale":{"domain":[-6.47202,4.40876],"nice":false,"zero":false}}}},
{"data":{"name":"vminor"},"mark":{"type":"tick","orient":"horizontal","size":10,"thickness":2,"color":"#a0a0a0"},"encoding":{"x":{"datum":1000,"type":"quantitative","scale":{"domain":[-226.08,2044.38],"nice":false,"zero":false}},"y":{"field":"i","type":"quantitative","scale":{"domain":[-6.47202,4.40876],"nice":false,"zero":false}}}},
{"data":{"name":"hminor"},"mark":{"type":"tick","orient":"vertical","size":10,"thickness":2,"color":"#a8a8a8"},"encoding":{"x":{"field":"t","type":"quantitative","scale":{"domain":[-226.08,2044.38],"nice":false,"zero":false}},"y":{"datum":0,"type":"quantitative","scale":{"domain":[-6.47202,4.40876],"nice":false,"zero":false}}}},
{"data":{"name":"curB"},"mark":{"type":"line","color":"#e20c0c","strokeWidth":3},"encoding":{"x":{"field":"t","type":"quantitative","scale":{"domain":[-226.08,2044.38],"nice":false,"zero":false}},"y":{"field":"i","type":"quantitative","scale":{"domain":[-6.47202,4.40876],"nice":false,"zero":false}}}},
{"mark":{"type":"rule","color":"#000000","strokeWidth":5},"encoding":{"x":{"datum":0,"type":"quantitative","scale":{"domain":[-226.08,2044.38],"nice":false,"zero":false}},"y":{"datum":-0.26,"type":"quantitative","scale":{"domain":[-6.47202,4.40876],"nice":false,"zero":false}},"y2":{"datum":2}}},
{"mark":{"type":"rule","color":"#000000","strokeWidth":5},"encoding":{"x":{"datum":400,"type":"quantitative","scale":{"domain":[-226.08,2044.38],"nice":false,"zero":false}},"y":{"datum":-0.26,"type":"quantitative","scale":{"domain":[-6.47202,4.40876],"nice":false,"zero":false}},"y2":{"datum":0}}},
{"mark":{"type":"rule","color":"#000000","strokeWidth":6},"encoding":{"x":{"datum":-33,"type":"quantitative","scale":{"domain":[-226.08,2044.38],"nice":false,"zero":false}},"x2":{"datum":400},"y":{"datum":0,"type":"quantitative","scale":{"domain":[-6.47202,4.40876],"nice":false,"zero":false}}}},
{"mark":{"type":"rule","color":"#000000","strokeWidth":5},"encoding":{"x":{"datum":-33,"type":"quantitative","scale":{"domain":[-226.08,2044.38],"nice":false,"zero":false}},"x2":{"datum":0},"y":{"datum":2,"type":"quantitative","scale":{"domain":[-6.47202,4.40876],"nice":false,"zero":false}}}},
{"mark":{"type":"text","fontWeight":"bold","text":"2"},"encoding":{"x":{"datum":-97,"type":"quantitative","scale":{"domain":[-226.08,2044.38],"nice":false,"zero":false}},"y":{"datum":2,"type":"quantitative","scale":{"domain":[-6.47202,4.40876],"nice":false,"zero":false}}}},
{"mark":{"type":"text","fontWeight":"bold","text":"[A]"},"encoding":{"x":{"datum":-97,"type":"quantitative","scale":{"domain":[-226.08,2044.38],"nice":false,"zero":false}},"y":{"datum":1,"type":"quantitative","scale":{"domain":[-6.47202,4.40876],"nice":false,"zero":false}}}},
{"mark":{"type":"text","fontWeight":"bold","text":"0"},"encoding":{"x":{"datum":-97,"type":"quantitative","scale":{"domain":[-226.08,2044.38],"nice":false,"zero":false}},"y":{"datum":0,"type":"quantitative","scale":{"domain":[-6.47202,4.40876],"nice":false,"zero":false}}}},
{"mark":{"type":"text","fontWeight":"bold","text":"0"},"encoding":{"x":{"datum":0,"type":"quantitative","scale":{"domain":[-226.08,2044.38],"nice":false,"zero":false}},"y":{"datum":-0.584,"type":"quantitative","scale":{"domain":[-6.47202,4.40876],"nice":false,"zero":false}}}},
{"mark":{"type":"text","fontWeight":"bold","text":"[ms]"},"encoding":{"x":{"datum":197,"type":"quantitative","scale":{"domain":[-226.08,2044.38],"nice":false,"zero":false}},"y":{"datum":-0.584,"type":"quantitative","scale":{"domain":[-6.47202,4.40876],"nice":false,"zero":false}}}},
{"mark":{"type":"text","fontWeight":"bold","text":"400"},"encoding":{"x":{"datum":400,"type":"quantitative","scale":{"domain":[-226.08,2044.38],"nice":false,"zero":false}},"y":{"datum":-0.584,"type":"quantitative","scale":{"domain":[-6.47202,4.40876],"nice":false,"zero":false}}}},
{"mark":{"type":"text","fontWeight":"bold","fontSize":52,"color":"#ff0000","align":"left","baseline":"alphabetic","text":"Armature Current"},"encoding":{"x":{"datum":700,"type":"quantitative","scale":{"domain":[-226.08,2044.38],"nice":false,"zero":false}},"y":{"datum":1.66,"type":"quantitative","scale":{"domain":[-6.47202,4.40876],"nice":false,"zero":false}}}},
{"mark":{"type":"rule","color":"#ff0000","strokeWidth":4},"encoding":{"x":{"datum":691,"type":"quantitative","scale":{"domain":[-226.08,2044.38],"nice":false,"zero":false}},"x2":{"datum":635},"y":{"datum":1.596,"type":"quantitative","scale":{"domain":[-6.47202,4.40876],"nice":false,"zero":false}},"y2":{"datum":1.217}}},
{"mark":{"type":"point","shape":"triangle-up","angle":225,"size":380,"filled":true,"opacity":1,"color":"#ff0000"},"encoding":{"x":{"datum":635,"type":"quantitative","scale":{"domain":[-226.08,2044.38],"nice":false,"zero":false}},"y":{"datum":1.217,"type":"quantitative","scale":{"domain":[-6.47202,4.40876],"nice":false,"zero":false}}}},
{"mark":{"type":"text","fontWeight":"bold","fontSize":80,"baseline":"alphabetic","text":"b"},"encoding":{"x":{"datum":893,"type":"quantitative","scale":{"domain":[-226.08,2044.38],"nice":false,"zero":false}},"y":{"datum":-6.1,"type":"quantitative","scale":{"domain":[-6.47202,4.40876],"nice":false,"zero":false}}}},
{"mark":{"type":"text","fontSize":80,"baseline":"alphabetic","align":"right","dx":-22,"text":"("},"encoding":{"x":{"datum":893,"type":"quantitative","scale":{"domain":[-226.08,2044.38],"nice":false,"zero":false}},"y":{"datum":-6.1,"type":"quantitative","scale":{"domain":[-6.47202,4.40876],"nice":false,"zero":false}}}},
{"mark":{"type":"text","fontSize":80,"baseline":"alphabetic","align":"left","dx":22,"text":")"},"encoding":{"x":{"datum":893,"type":"quantitative","scale":{"domain":[-226.08,2044.38],"nice":false,"zero":false}},"y":{"datum":-6.1,"type":"quantitative","scale":{"domain":[-6.47202,4.40876],"nice":false,"zero":false}}}}
]},
{"data":{"values":[{}]},"layer":[
{"data":{"name":"fftB"},"mark":{"type":"line","color":"#14147c","strokeWidth":2.5},"encoding":{"x":{"field":"f","type":"quantitative","scale":{"domain":[-1.06519,4.61096],"nice":false,"zero":false}},"y":{"field":"a","type":"quantitative","scale":{"domain":[-1736.01,3704.38],"nice":false,"zero":false}}}},
{"mark":{"type":"rule","color":"#000000","strokeWidth":5},"encoding":{"x":{"datum":-0.5,"type":"quantitative","scale":{"domain":[-1.06519,4.61096],"nice":false,"zero":false}},"y":{"datum":0,"type":"quantitative","scale":{"domain":[-1736.01,3704.38],"nice":false,"zero":false}},"y2":{"datum":500}}},
{"mark":{"type":"rule","color":"#000000","strokeWidth":5},"encoding":{"x":{"datum":-0.583,"type":"quantitative","scale":{"domain":[-1.06519,4.61096],"nice":false,"zero":false}},"x2":{"datum":-0.5},"y":{"datum":500,"type":"quantitative","scale":{"domain":[-1736.01,3704.38],"nice":false,"zero":false}}}},
{"mark":{"type":"rule","color":"#000000","strokeWidth":5},"encoding":{"x":{"datum":-0.583,"type":"quantitative","scale":{"domain":[-1.06519,4.61096],"nice":false,"zero":false}},"x2":{"datum":-0.5},"y":{"datum":0,"type":"quantitative","scale":{"domain":[-1736.01,3704.38],"nice":false,"zero":false}}}},
{"mark":{"type":"rule","color":"#000000","strokeWidth":6},"encoding":{"x":{"datum":0,"type":"quantitative","scale":{"domain":[-1.06519,4.61096],"nice":false,"zero":false}},"x2":{"datum":1},"y":{"datum":-519.5,"type":"quantitative","scale":{"domain":[-1736.01,3704.38],"nice":false,"zero":false}}}},
{"mark":{"type":"rule","color":"#000000","strokeWidth":5},"encoding":{"x":{"datum":0,"type":"quantitative","scale":{"domain":[-1.06519,4.61096],"nice":false,"zero":false}},"y":{"datum":-519.5,"type":"quantitative","scale":{"domain":[-1736.01,3704.38],"nice":false,"zero":false}},"y2":{"datum":-641}}},
{"mark":{"type":"rule","color":"#000000","strokeWidth":5},"encoding":{"x":{"datum":1,"type":"quantitative","scale":{"domain":[-1.06519,4.61096],"nice":false,"zero":false}},"y":{"datum":-519.5,"type":"quantitative","scale":{"domain":[-1736.01,3704.38],"nice":false,"zero":false}},"y2":{"datum":-641}}},
{"mark":{"type":"text","text":"500"},"encoding":{"x":{"datum":-0.746,"type":"quantitative","scale":{"domain":[-1.06519,4.61096],"nice":false,"zero":false}},"y":{"datum":500,"type":"quantitative","scale":{"domain":[-1736.01,3704.38],"nice":false,"zero":false}}}},
{"mark":{"type":"text","text":"[mA]"},"encoding":{"x":{"datum":-0.746,"type":"quantitative","scale":{"domain":[-1.06519,4.61096],"nice":false,"zero":false}},"y":{"datum":250,"type":"quantitative","scale":{"domain":[-1736.01,3704.38],"nice":false,"zero":false}}}},
{"mark":{"type":"text","text":"0"},"encoding":{"x":{"datum":-0.746,"type":"quantitative","scale":{"domain":[-1.06519,4.61096],"nice":false,"zero":false}},"y":{"datum":0,"type":"quantitative","scale":{"domain":[-1736.01,3704.38],"nice":false,"zero":false}}}},
{"mark":{"type":"text","text":"0"},"encoding":{"x":{"datum":0,"type":"quantitative","scale":{"domain":[-1.06519,4.61096],"nice":false,"zero":false}},"y":{"datum":-821,"type":"quantitative","scale":{"domain":[-1736.01,3704.38],"nice":false,"zero":false}}}},
{"mark":{"type":"text","text":"[kHz]"},"encoding":{"x":{"datum":0.481,"type":"quantitative","scale":{"domain":[-1.06519,4.61096],"nice":false,"zero":false}},"y":{"datum":-821,"type":"quantitative","scale":{"domain":[-1736.01,3704.38],"nice":false,"zero":false}}}},
{"mark":{"type":"text","text":"1"},"encoding":{"x":{"datum":1,"type":"quantitative","scale":{"domain":[-1.06519,4.61096],"nice":false,"zero":false}},"y":{"datum":-821,"type":"quantitative","scale":{"domain":[-1736.01,3704.38],"nice":false,"zero":false}}}},
{"mark":{"type":"text","fontWeight":"bold","fontSize":52,"color":"#10306e","align":"left","baseline":"alphabetic","text":"FFT Analysis"},"encoding":{"x":{"datum":0.512,"type":"quantitative","scale":{"domain":[-1.06519,4.61096],"nice":false,"zero":false}},"y":{"datum":483,"type":"quantitative","scale":{"domain":[-1736.01,3704.38],"nice":false,"zero":false}}}},
{"mark":{"type":"text","fontWeight":"bold","fontSize":52,"color":"#10306e","align":"left","baseline":"alphabetic","text":"2 [kHz]"},"encoding":{"x":{"datum":2.038,"type":"quantitative","scale":{"domain":[-1.06519,4.61096],"nice":false,"zero":false}},"y":{"datum":532,"type":"quantitative","scale":{"domain":[-1736.01,3704.38],"nice":false,"zero":false}}}},
{"mark":{"type":"text","fontWeight":"bold","fontSize":52,"color":"#10306e","align":"left","baseline":"alphabetic","text":"4 [kHz]"},"encoding":{"x":{"datum":3.72,"type":"quantitative","scale":{"domain":[-1.06519,4.61096],"nice":false,"zero":false}},"y":{"datum":532,"type":"quantitative","scale":{"domain":[-1736.01,3704.38],"nice":false,"zero":false}}}},
{"mark":{"type":"rule","color":"#10306e","strokeWidth":4},"encoding":{"x":{"datum":0.4605,"type":"quantitative","scale":{"domain":[-1.06519,4.61096],"nice":false,"zero":false}},"x2":{"datum":0.3183},"y":{"datum":444,"type":"quantitative","scale":{"domain":[-1736.01,3704.38],"nice":false,"zero":false}},"y2":{"datum":252}}},
{"mark":{"type":"point","shape":"triangle-up","angle":225,"size":380,"filled":true,"opacity":1,"color":"#10306e"},"encoding":{"x":{"datum":0.3183,"type":"quantitative","scale":{"domain":[-1.06519,4.61096],"nice":false,"zero":false}},"y":{"datum":252,"type":"quantitative","scale":{"domain":[-1736.01,3704.38],"nice":false,"zero":false}}}}
]}
]}
]
}
